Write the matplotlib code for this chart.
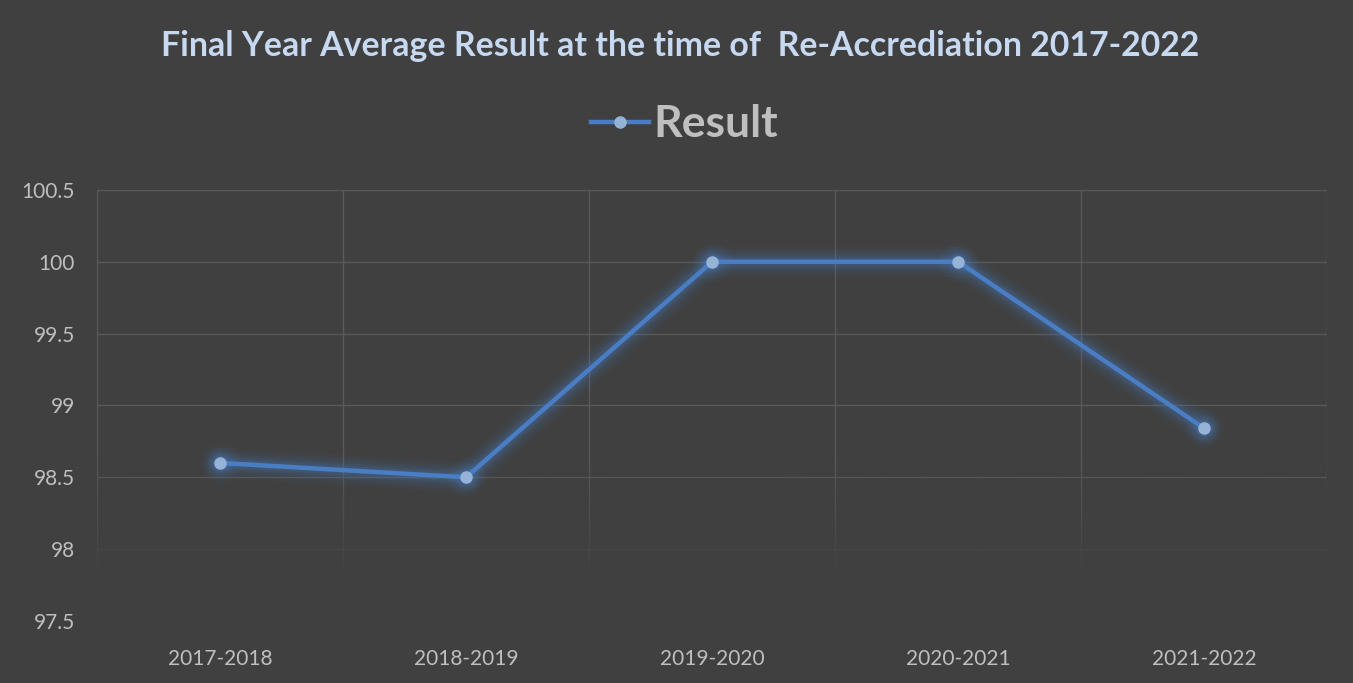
import numpy as np
import matplotlib.pyplot as plt

years = ['2017-2018', '2018-2019', '2019-2020', '2020-2021', '2021-2022']
result = [98.6, 98.5, 100.0, 100.0, 98.84]
yticks = [97.5, 98, 98.5, 99, 99.5, 100, 100.5]

bg = '#404040'
grid_c = '#595959'
text_c = '#BFBFBF'
line_c = '#4A7EC4'
marker_c = '#95B3D7'

plt.rcParams['font.family'] = ['Lato', 'DejaVu Sans']

fig = plt.figure(figsize=(13.53, 6.83), dpi=100, facecolor=bg)
ax = fig.add_axes([0.0717, 0.0908, 0.9093, 0.6312])
ax.set_facecolor(bg)

x = np.arange(len(years))

# glow around the line
for lw, a in [(22, 0.05), (17, 0.06), (13, 0.08), (9.5, 0.11), (6.5, 0.15)]:
    ax.plot(x, result, color=line_c, lw=lw, alpha=a, solid_capstyle='round', zorder=3)
    ax.plot(x, result, 'o', color=line_c, ms=lw + 6, alpha=a, mew=0, zorder=3)

ax.plot(x, result, color=line_c, lw=3.2, marker='o', ms=8, mfc=marker_c, mec=marker_c,
        zorder=5, label='Result')

ax.set_xticks(x)
ax.set_xticklabels(years)
ax.set_xticks(np.arange(-0.5, len(years)), minor=True)
ax.set_yticks(yticks)
ax.set_yticklabels([f'{v:g}' for v in yticks])

ax.grid(True, which='major', axis='y', color=grid_c, lw=1)
ax.grid(True, which='minor', axis='x', color=grid_c, lw=1)
ax.set_axisbelow(True)

# fade the grid towards the bottom
fade = np.zeros((100, 1, 4))
r, g, b = [int(bg[i:i + 2], 16) / 255 for i in (1, 3, 5)]
fade[..., 0], fade[..., 1], fade[..., 2] = r, g, b
fade[..., 3] = np.clip(np.linspace(1.3, -0.3, 100), 0, 1)[:, None]
ax.imshow(fade, extent=(-0.5, len(years) - 0.5, 97.5, 98.9), aspect='auto',
          origin='lower', zorder=2)
ax.set_xlim(-0.5, len(years) - 0.5)
ax.set_ylim(97.5, 100.5)

for s in ax.spines.values():
    s.set_visible(False)
ax.tick_params(which='both', length=0, colors=text_c, labelsize=15)
ax.tick_params(axis='x', pad=20)
ax.tick_params(axis='y', pad=16)

fig.text(0.503, 0.933, 'Final Year Average Result at the time of  Re-Accrediation 2017-2022',
         ha='center', va='center', fontsize=24.4, fontweight='bold', color='#C6D9F1')

leg = fig.legend(loc='center', bbox_to_anchor=(0.506, 0.818), frameon=False,
                 prop={'size': 32, 'weight': 'bold'}, handlelength=1.3, handletextpad=0.1)
for t in leg.get_texts():
    t.set_color(text_c)

fig.savefig('out.png', dpi=100, facecolor=bg)
